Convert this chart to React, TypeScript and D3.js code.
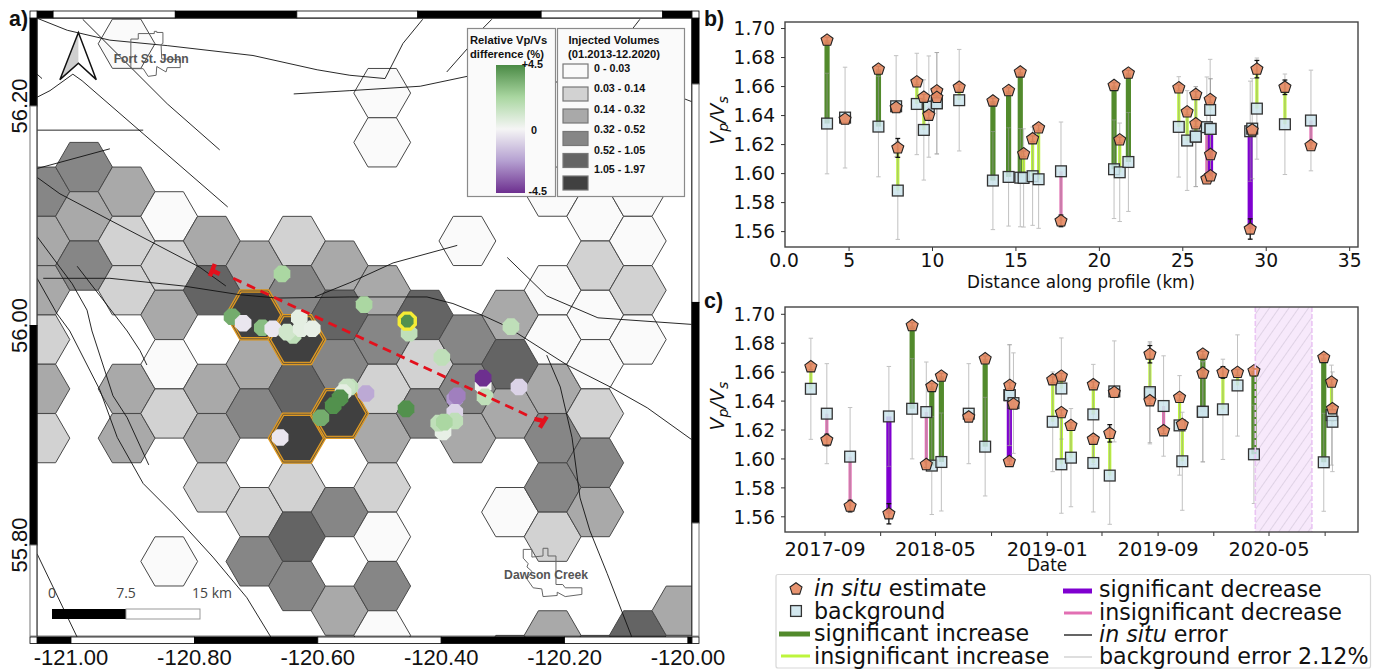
import React from "react";
import * as d3 from "d3";

// ---------- map data ----------
const volumeLabels = ["0 - 0.03", "0.03 - 0.14", "0.14 - 0.32", "0.32 - 0.52", "0.52 - 1.05", "1.05 - 1.97"];
const volumeColors = ["#fafafa", "#d2d2d2", "#a9a9a9", "#868686", "#646464", "#404040"];
const lonTicks = [-121, -120.8, -120.6, -120.4, -120.2, -120];
const latTicks = [55.8, 56, 56.2];
// [column, half-row, volume class]
const hexCells: number[][] = [
  [-1,1,3],[-1,3,2],[-1,5,2],[-1,7,1],[-1,9,2],[-1,11,1],
  [0,0,3],[0,2,2],[0,4,3],
  [1,-5,0],[1,1,2],[1,3,1],[1,5,1],[1,9,2],[1,11,2],
  [2,2,0],[2,4,1],[2,6,2],[2,8,0],[2,10,1],[2,16,0],
  [3,3,2],[3,5,4],[3,9,2],[3,11,2],[3,13,1],
  [4,4,2],[4,8,2],[4,10,3],[4,14,1],[4,16,3],
  [5,3,1],[5,5,3],[5,9,4],[5,13,1],[5,15,4],[5,17,3],
  [6,4,2],[6,6,4],[6,8,3],[6,14,3],[6,18,2],
  [7,-3,0],[7,-1,0],[7,5,2],[7,7,3],[7,9,1],[7,11,2],[7,13,1],[7,15,0],[7,17,3],[7,19,0],
  [8,6,4],[8,8,1],[8,10,3],
  [9,3,0],[9,7,3],[9,9,3],[9,11,2],
  [10,6,2],[10,8,4],[10,10,2],[10,14,0],[10,20,2],
  [11,1,0],[11,5,0],[11,7,0],[11,9,2],[11,11,3],[11,13,3],[11,15,1],[11,19,2],
  [12,2,0],[12,4,1],[12,6,0],[12,8,0],[12,10,1],[12,12,3],[12,14,2],[12,20,2],
  [13,1,0],[13,3,0],[13,5,1],[13,7,0],[13,19,4],
  [14,18,2],
];
const highlightedHexes: number[][] = [[4,6],[5,7],[5,11],[6,10]];
const faults: number[][][] = [
  [[-121.055,56.28],[-121.006,56.269],[-120.937,56.26],[-120.844,56.255],[-120.705,56.246],[-120.601,56.233],[-120.548,56.228],[-120.491,56.225]],
  [[-120.981,56.279],[-120.844,56.202],[-120.759,56.16]],
  [[-121.055,56.229],[-121.047,56.225]],
  [[-121.055,56.208],[-121.034,56.214],[-120.997,56.229],[-120.982,56.223],[-120.746,56.108]],
  [[-121.055,56.178],[-120.883,56.178]],
  [[-120.639,56.211],[-120.548,56.214],[-120.434,56.218],[-120.358,56.227]],
  [[-120.43,56.279],[-120.462,56.257],[-120.491,56.225]],
  [[-120.318,56.279],[-120.332,56.271],[-120.358,56.252],[-120.391,56.231]],
  [[-120.078,56.279],[-120.089,56.271]],
  [[-120.229,56.223],[-120.008,56.207],[-119.994,56.204]],
  [[-121.055,56.143],[-120.937,56.161]],
  [[-121.055,56.135],[-121.018,56.12],[-120.937,56.096],[-120.791,56.053],[-120.749,56.036]],
  [[-121.045,56.043],[-120.937,56.043],[-120.818,56.036],[-120.726,56.028],[-120.666,56.025],[-120.548,56.026],[-120.423,56.026],[-120.381,56.02],[-120.332,56.009],[-120.301,56.001],[-120.277,55.993],[-120.196,55.964],[-120.126,55.944],[-120.066,55.925],[-119.994,55.896]],
  [[-120.605,56.026],[-120.548,56.039],[-120.478,56.057],[-120.374,56.073]],
  [[-120.293,56.062],[-120.229,56.027],[-120.146,56.007],[-119.994,56.001]],
  [[-120.229,55.973],[-120.207,55.944],[-120.188,55.898],[-120.175,55.843],[-120.159,55.813],[-120.131,55.774],[-120.091,55.716]],
  [[-120.99,56.054],[-120.909,55.995],[-120.888,55.977],[-120.877,55.964]],
  [[-121.055,56.081],[-120.998,56.038],[-120.974,56.014],[-120.966,55.995],[-120.932,55.936],[-120.909,55.916],[-120.874,55.873]],
  [[-121.055,56.043],[-121.023,56.011],[-121.002,55.995],[-120.953,55.941],[-120.925,55.898],[-120.883,55.856],[-120.835,55.829],[-120.77,55.789],[-120.715,55.752],[-120.676,55.716]],
  [[-121.055,55.792],[-120.99,55.716]],
];
const fortStJohnOutline: number[][] = [[-120.903,56.261],[-120.891,56.261],[-120.891,56.266],[-120.865,56.266],[-120.865,56.268],[-120.861,56.268],[-120.861,56.267],[-120.851,56.267],[-120.851,56.257],[-120.854,56.256],[-120.853,56.243],[-120.823,56.242],[-120.823,56.235],[-120.844,56.235],[-120.846,56.231],[-120.861,56.236],[-120.862,56.228],[-120.875,56.227],[-120.883,56.234],[-120.903,56.234]];
const dawsonOutline: number[][] = [[-120.267,55.796],[-120.267,55.788],[-120.259,55.783],[-120.261,55.78],[-120.253,55.776],[-120.261,55.769],[-120.251,55.761],[-120.237,55.76],[-120.235,55.753],[-120.212,55.754],[-120.212,55.757],[-120.199,55.753],[-120.172,55.755],[-120.172,55.761],[-120.199,55.761],[-120.203,55.764],[-120.214,55.764],[-120.214,55.79],[-120.227,55.79],[-120.227,55.797],[-120.235,55.797],[-120.235,55.79],[-120.253,55.789],[-120.253,55.796]];
// stations: longitude, latitude, relative Vp/Vs difference (%)
const stationLon = [-120.658,-120.739,-120.721,-120.69,-120.673,-120.64,-120.65,-120.627,-120.63,-120.609,-120.525,-120.452,-120.455,-120.287,-120.399,-120.332,-120.332,-120.329,-120.274,-120.522,-120.457,-120.378,-120.374,-120.378,-120.378,-120.397,-120.404,-120.395,-120.548,-120.553,-120.559,-120.564,-120.575,-120.595,-120.661];
const stationLat = [56.047,56.008,56.002,55.998,55.997,55.991,55.994,55.997,56.007,55.997,56.019,55.993,56.004,55.999,55.971,55.945,55.952,55.935,55.944,55.938,55.924,55.933,55.936,55.921,55.913,55.903,55.911,55.912,55.944,55.944,55.939,55.934,55.927,55.916,55.898];
const stationDiff = [2.2,3.5,-0.4,3,-0.4,1.6,1.1,0.5,0.5,0.4,2.2,1.6,4.3,1.6,1.6,0.1,-4.5,1.6,-0.9,-2,4.3,-2.4,-2.9,-0.9,1.6,0.4,1.6,2.2,1.6,1.3,0.5,4.3,4.3,3.5,-0.4];
const highlightedStation = 12;
const profileEnds: number[][] = [[-120.737,56.043],[-120.256,55.917]];
const profileStartCap: number[][] = [[-120.767,56.056],[-120.775,56.045]];
const profileStartStub: number[][] = [[-120.771,56.05],[-120.759,56.047]];
const profileEndCap: number[][] = [[-120.229,55.917],[-120.24,55.907]];
const profileEndStub: number[][] = [[-120.235,55.913],[-120.249,55.915]];
const barBlocks = {
  top: [[-121.055,-121.029,1],[-121.029,-120.831,0],[-120.831,-120.634,1],[-120.634,-120.438,0],[-120.438,-120.238,1],[-120.238,-120.041,0],[-120.041,-119.994,1]],
  bottom: [[-121.055,-121,1],[-121,-120.8,0],[-120.8,-120.6,1],[-120.6,-120.4,0],[-120.4,-120.2,1],[-120.2,-120,0],[-120,-119.994,1]],
  left: [[56.28,56.2,1],[56.2,56,0],[56,55.8,1],[55.8,55.717,0]],
  right: [[56.28,56.22,1],[56.22,56.021,0],[56.021,55.82,1],[55.82,55.717,0]],
};

// ---------- panel b ----------
const bDist = [3.68,4.76,6.76,7.82,7.92,9.06,9.48,9.78,10.26,10.26,11.6,13.62,14.56,15.26,15.46,16.0,16.36,17.7,20.88,21.22,21.74,24.76,25.26,25.78,25.78,26.44,26.64,26.66,26.66,29.04,29.16,29.44,31.12,32.68];
const bInSitu = [1.692,1.6375,1.672,1.6455,1.6177,1.6632,1.6526,1.6402,1.657,1.6525,1.6595,1.65,1.6572,1.67,1.6136,1.624,1.6315,1.5674,1.6607,1.6232,1.6692,1.6591,1.6425,1.6545,1.6343,1.5963,1.651,1.6131,1.5984,1.5618,1.63,1.672,1.6595,1.6193];
const bBackground = [1.6345,1.6386,1.6324,1.6464,1.5883,1.648,1.6301,1.6462,1.6485,1.6485,1.6506,1.5952,1.5977,1.5972,1.597,1.5982,1.5961,1.6016,1.603,1.6009,1.608,1.6322,1.6228,1.6255,1.6255,1.632,1.6439,1.6308,1.6308,1.6292,1.631,1.6448,1.634,1.6366];
const bKind = ["si","n","si","n","ii","ii","ii","id","ii","ii","ii","si","si","si","ii","ii","ii","id","si","ii","si","ii","ii","ii","ii","id","ii","sd","sd","sd","n","ii","ii","id"];
const bError = [0.002,0.002,0.002,0.002,0.0065,0.002,0.002,0.002,0.002,0.002,0.002,0.002,0.002,0.002,0.002,0.002,0.002,0.004,0.002,0.002,0.002,0.002,0.002,0.002,0.002,0.002,0.002,0.002,0.002,0.007,0.002,0.006,0.005,0.002];
const bBackgroundError = 0.0212;
const bXTicks = [5,10,15,20,25,30,35];

// ---------- panel c ----------
const cDate = ["2017-08-01","2017-09-05","2017-10-26","2018-01-19","2018-03-11","2018-04-11","2018-04-23","2018-05-14","2018-07-13","2018-08-18","2018-10-10","2018-10-11","2018-10-19","2019-01-13","2019-02-01","2019-02-01","2019-02-22","2019-04-12","2019-04-12","2019-05-18","2019-05-28","2019-08-14","2019-08-14","2019-09-13","2019-10-18","2019-10-24","2019-12-08","2019-12-08","2020-01-21","2020-02-22","2020-03-29","2020-08-29","2020-09-15","2020-09-17"];
const cInSitu = [1.6637,1.6131,1.5674,1.5621,1.6922,1.5961,1.6501,1.6572,1.629,1.6692,1.5982,1.6508,1.6379,1.6547,1.6572,1.632,1.6232,1.6513,1.6136,1.6177,1.646,1.6724,1.6402,1.6195,1.6425,1.6239,1.6724,1.6593,1.6598,1.6598,1.6609,1.6701,1.6531,1.6347];
const cBackground = [1.6485,1.6313,1.6016,1.6294,1.6347,1.6324,1.5954,1.5979,1.6313,1.6085,1.6441,1.6441,1.6386,1.6257,1.6487,1.5963,1.6009,1.6308,1.5972,1.5885,1.6467,1.6453,1.6462,1.6366,1.6232,1.5984,1.6326,1.6326,1.6343,1.6508,1.6032,1.5977,1.6303,1.6257];
const cKind = ["ii","id","id","sd","si","id","si","si","n","si","sd","ii","n","ii","ii","ii","ii","ii","ii","ii","n","ii","id","id","ii","ii","si","si","ii","ii","si","si","ii","ii"];
const cError = [0.002,0.004,0.004,0.007,0.002,0.002,0.002,0.002,0.002,0.002,0.002,0.002,0.002,0.002,0.002,0.002,0.002,0.002,0.002,0.006,0.002,0.006,0.002,0.002,0.002,0.002,0.002,0.002,0.004,0.002,0.002,0.002,0.002,0.002];
const cTickDates = ["2017-09-01","2018-01-01","2018-05-01","2018-09-01","2019-01-01","2019-05-01","2019-09-01","2020-01-01","2020-05-01","2020-09-01"];
const cTickLabels = ["2017-09","","2018-05","","2019-01","","2019-09","","2020-05",""];
const shutdownWindow = ["2020-04-01","2020-08-03"];
const yTicks = [1.56,1.58,1.6,1.62,1.64,1.66,1.68,1.7];

const kindStyle: Record<string, { color: string; width: number }> = {
  si: { color: "#528a2c", width: 5.2 },
  ii: { color: "#bdf53c", width: 3.2 },
  sd: { color: "#7f00d0", width: 5.2 },
  id: { color: "#e26fb3", width: 3.2 },
};

const SANS = "'DejaVu Sans', sans-serif";
const ARIAL = "'Liberation Sans', Arial, sans-serif";

const lon = d3.scaleLinear().domain([-121, -120]).range([71, 688]);
const lat = d3.scaleLinear().domain([55.8, 56.2]).range([545, 106]);
const hexX = d3.scaleLinear().domain([0, 14]).range([84, 680.4]);
const hexY = d3.scaleLinear().domain([0, 20]).range([167, 660]);
const diffColor = d3.scaleLinear<string>().domain([-4.5, -2.25, 0, 2.25, 4.5]).range(["#6d2f8f", "#b5a0d1", "#f5f5f5", "#a9d6a0", "#4a8a45"]);
const mapLine = d3.line<number[]>().x((d) => lon(d[0])).y((d) => lat(d[1]));

function polygon(cx: number, cy: number, r: number, n: number, start: number) {
  const pts = d3.range(n).map((i) => {
    const a = start + (i * 2 * Math.PI) / n;
    return [cx + r * Math.cos(a), cy + r * Math.sin(a)] as [number, number];
  });
  return d3.line()(pts) + "Z";
}
const hexPath = (k: number, r: number) => polygon(hexX(k), hexY(r), 28.4, 6, 0);

function MapPanel() {
  const x0 = lon(-121.055), x1 = lon(-119.994), y0 = lat(56.28), y1 = lat(55.717);
  return (
    <g>
      <clipPath id="mapClip"><rect x={37} y={18} width={655} height={619} /></clipPath>
      <g clipPath="url(#mapClip)">
        {hexCells.map(([k, r, c], i) => (
          <path key={i} d={hexPath(k, r)} fill={volumeColors[c]} stroke="#484848" strokeWidth={1} />
        ))}
        {highlightedHexes.map(([k, r], i) => (
          <g key={i}>
            <path d={polygon(hexX(k), hexY(r), 27.6, 6, 0)} fill={volumeColors[5]} stroke="#e09a22" strokeWidth={3.4} />
            <path d={polygon(hexX(k), hexY(r), 27.6, 6, 0)} fill="none" stroke="#5a5040" strokeWidth={0.9} />
          </g>
        ))}
        {faults.map((f, i) => (
          <path key={i} d={mapLine(f) as string} fill="none" stroke="#111" strokeWidth={0.9} />
        ))}
        <path d={(mapLine(fortStJohnOutline) as string) + "Z"} fill="none" stroke="#666" strokeWidth={1} />
        <path d={(mapLine(dawsonOutline) as string) + "Z"} fill="none" stroke="#666" strokeWidth={1} />
        <text x={lon(-120.87)} y={lat(56.239)} textAnchor="middle" fontFamily={ARIAL} fontWeight="bold" fontSize={12.2} fill="#555">Fort St. John</text>
        <text x={lon(-120.23)} y={lat(55.769)} textAnchor="middle" fontFamily={ARIAL} fontWeight="bold" fontSize={12.2} fill="#555">Dawson Creek</text>
        {stationLon.map((l, i) => (
          <g key={i}>
            {i === highlightedStation && <path d={polygon(lon(l), lat(stationLat[i]), 10.5, 8, Math.PI / 8)} fill="#f5ec35" />}
            <path d={polygon(lon(l), lat(stationLat[i]), i === highlightedStation ? 6.8 : 9, 8, Math.PI / 8)} fill={diffColor(stationDiff[i])} />
          </g>
        ))}
        <path d={mapLine(profileEnds) as string} stroke="#e3101c" strokeWidth={2.8} strokeDasharray="9 6" fill="none" />
        {[profileStartCap, profileStartStub, profileEndCap, profileEndStub].map((s, i) => (
          <path key={i} d={mapLine(s) as string} stroke="#e3101c" strokeWidth={4.4} fill="none" />
        ))}
        {/* north arrow */}
        <path d={`M${lon(-120.988)} ${lat(56.267)} L${lon(-120.988)} ${lat(56.239)} L${lon(-121.018)} ${lat(56.224)} Z`} fill="#cfcfcf" />
        <path d={`M${lon(-121.018)} ${lat(56.224)} L${lon(-120.988)} ${lat(56.267)} L${lon(-120.959)} ${lat(56.224)} L${lon(-120.988)} ${lat(56.239)} Z`} fill="none" stroke="#111" strokeWidth={1.5} />
        {/* scale bar */}
        <rect x={52} y={609} width={74} height={10} fill="#000" />
        <rect x={126} y={609} width={74} height={10} fill="#fff" stroke="#999" />
        {[["0", 52], ["7.5", 126], ["15 km", 212]].map(([t, x]) => (
          <text key={t as string} x={x as number} y={598} textAnchor="middle" fontFamily="'Open Sans', sans-serif" fontSize={14} fill="#444">{t}</text>
        ))}
      </g>
      {/* frame */}
      {barBlocks.top.map(([a, b, v], i) => (
        <rect key={i} x={lon(a)} y={11} width={lon(b) - lon(a)} height={7} fill={v ? "#000" : "#fff"} stroke="#000" strokeWidth={0.8} />
      ))}
      {barBlocks.bottom.map(([a, b, v], i) => (
        <rect key={i} x={lon(a)} y={637} width={lon(b) - lon(a)} height={6.5} fill={v ? "#000" : "#fff"} stroke="#000" strokeWidth={0.8} />
      ))}
      {barBlocks.left.map(([a, b, v], i) => (
        <rect key={i} x={30} y={lat(a)} width={7} height={lat(b) - lat(a)} fill={v ? "#000" : "#fff"} stroke={v ? "#000" : "#777"} strokeWidth={1} />
      ))}
      {barBlocks.right.map(([a, b, v], i) => (
        <rect key={i} x={692} y={lat(a)} width={7} height={lat(b) - lat(a)} fill={v ? "#000" : "#fff"} stroke={v ? "#000" : "#777"} strokeWidth={1} />
      ))}
      <rect x={30} y={11} width={7} height={7} fill="#fff" stroke="#000" strokeWidth={0.8} />
      <rect x={30} y={637} width={7} height={6.5} fill="#fff" stroke="#000" strokeWidth={0.8} />
      <rect x={692} y={11} width={7} height={7} fill="#fff" stroke="#000" strokeWidth={0.8} />
      <rect x={692} y={637} width={7} height={6.5} fill="#fff" stroke="#000" strokeWidth={0.8} />
      <rect x={x0} y={y0} width={x1 - x0} height={y1 - y0} fill="none" stroke="#222" strokeWidth={0.8} />
      {lonTicks.map((t) => (
        <text key={t} x={lon(t)} y={665} textAnchor="middle" fontFamily={ARIAL} fontSize={22} fill="#111">{t.toFixed(2)}</text>
      ))}
      {latTicks.map((t) => (
        <text key={t} transform={`translate(27,${lat(t)}) rotate(-90)`} textAnchor="middle" fontFamily={ARIAL} fontSize={22} fill="#111">{t.toFixed(2)}</text>
      ))}
      {/* map legends */}
      <defs>
        <linearGradient id="diffGrad" x1="0" y1="0" x2="0" y2="1">
          {d3.range(0, 1.001, 0.125).map((o) => (
            <stop key={o} offset={o} stopColor={diffColor(4.5 - o * 9)} />
          ))}
        </linearGradient>
      </defs>
      <rect x={467.5} y={28.5} width={88} height={168} fill="#fafafa" stroke="#8a8a8a" strokeWidth={1.2} />
      <rect x={557.5} y={28.5} width={127} height={168} fill="#fafafa" stroke="#8a8a8a" strokeWidth={1.2} />
      <g fontFamily={ARIAL} fontWeight="bold" fontSize={11.2} fill="#111">
        <text x={470} y={44}>Relative Vp/Vs</text>
        <text x={470} y={58}>difference (%)</text>
        <rect x={496} y={65} width={29} height={128} fill="url(#diffGrad)" />
        <g fontSize={10.8}>
          <text x={543} y={68} textAnchor="end">+4.5</text>
          <text x={534} y={134} textAnchor="middle">0</text>
          <text x={547} y={195} textAnchor="end">-4.5</text>
        </g>
        <text x={614} y={44} textAnchor="middle">Injected Volumes</text>
        <text x={614} y={58} textAnchor="middle">(01.2013-12.2020)</text>
        {volumeLabels.map((l, i) => {
          const sy = [64, 87, 109, 131.5, 153.5, 176][i];
          const ty = [72, 92, 113, 133, 154, 173][i];
          return (
            <g key={l}>
              <rect x={563} y={sy} width={25} height={14} fill={volumeColors[i]} stroke="#777" strokeWidth={1.2} />
              <text x={594} y={ty} fontSize={10.7}>{l}</text>
            </g>
          );
        })}
      </g>
    </g>
  );
}

function Pentagon({ x, y }: { x: number; y: number }) {
  return <path d={polygon(x, y, 6.3, 5, -Math.PI / 2)} fill="#e58a63" fillOpacity={0.92} stroke="#222" strokeWidth={1.1} />;
}
function Square({ x, y }: { x: number; y: number }) {
  return <rect x={x - 5.4} y={y - 5.4} width={10.8} height={10.8} fill="#cbe4ec" fillOpacity={0.85} stroke="#333" strokeWidth={1.3} />;
}

function ErrorBar({ x, a, b, color, width, cap, opacity }: any) {
  return (
    <g stroke={color} strokeWidth={width} opacity={opacity}>
      <line x1={x} x2={x} y1={a} y2={b} />
      <line x1={x - cap} x2={x + cap} y1={a} y2={a} />
      <line x1={x - cap} x2={x + cap} y1={b} y2={b} />
    </g>
  );
}

function Panel({ xs, insitu, bg, kind, err, y, xMin, xMax, top, bottom, children, overlay }: any) {
  return (
    <g>
      {children}
      {xs.map((x: number, i: number) => {
        const s = kindStyle[kind[i]];
        return s ? <line key={i} x1={x} x2={x} y1={y(insitu[i])} y2={y(bg[i])} stroke={s.color} strokeWidth={s.width} /> : null;
      })}
      {xs.map((x: number, i: number) => (
        <ErrorBar key={i} x={x} a={y(bg[i] * (1 + bBackgroundError))} b={y(bg[i] * (1 - bBackgroundError))} color="#9a9a9a" width={1} cap={2.2} opacity={0.6} />
      ))}
      {xs.map((x: number, i: number) => (
        <ErrorBar key={i} x={x} a={y(insitu[i] + err[i])} b={y(insitu[i] - err[i])} color="#111" width={1.3} cap={2.4} opacity={1} />
      ))}
      {xs.map((x: number, i: number) => <Square key={i} x={x} y={y(bg[i])} />)}
      {xs.map((x: number, i: number) => <Pentagon key={i} x={x} y={y(insitu[i])} />)}
      {overlay}
      <rect x={xMin} y={top} width={xMax - xMin} height={bottom - top} fill="none" stroke="#444" strokeWidth={1.4} />
      {yTicks.map((t) => (
        <g key={t}>
          <line x1={xMin - 4} x2={xMin} y1={y(t)} y2={y(t)} stroke="#333" />
          <text x={775} y={y(t) + 6.8} textAnchor="end" fontFamily={SANS} fontSize={18.6} fill="#111">{t.toFixed(2)}</text>
        </g>
      ))}
      <text transform={`translate(724,${y(1.64) + 5}) rotate(-90)`} textAnchor="middle" fontFamily={SANS} fontSize={19} fontStyle="italic" fill="#111">
        <tspan>V</tspan><tspan dy={4} fontSize={14}>p</tspan><tspan dy={-4}>/V</tspan><tspan dy={4} fontSize={14}>s</tspan>
      </text>
    </g>
  );
}

function PanelB() {
  const x = d3.scaleLinear().domain([1.16, 35.5]).range([785, 1358]);
  const y = d3.scaleLinear().domain([1.5494, 1.7045]).range([247, 22]);
  return (
    <Panel xs={bDist.map((d) => x(d))} insitu={bInSitu} bg={bBackground} kind={bKind} err={bError} y={y} xMin={785} xMax={1358} top={22} bottom={247}>
      {bXTicks.map((t) => (
        <g key={t}>
          <line x1={x(t)} x2={x(t)} y1={247} y2={251} stroke="#333" />
          <text x={x(t)} y={267} textAnchor="middle" fontFamily={SANS} fontSize={18.7} fill="#111">{t}</text>
        </g>
      ))}
      <text x={784} y={267} textAnchor="middle" fontFamily={SANS} fontSize={18.7} fill="#111">0.0</text>
      <text x={1081} y={288} textAnchor="middle" fontFamily={SANS} fontSize={16.8} fill="#111">Distance along profile (km)</text>
    </Panel>
  );
}

function PanelC() {
  const parse = d3.utcParse("%Y-%m-%d");
  const x = d3.scaleUtc().domain([parse("2017-09-01")!, parse("2020-05-01")!]).range([825, 1269]);
  const y = d3.scaleLinear().domain([1.5495, 1.7]).range([532, 314.3]);
  const sx0 = x(parse(shutdownWindow[0])!), sx1 = x(parse(shutdownWindow[1])!);
  const edges = [sx0, sx1].map((v) => (
    <line key={v} x1={v} x2={v} y1={307} y2={532} stroke="#eac4f3" strokeWidth={1.6} strokeDasharray="5 2" />
  ));
  return (
    <Panel xs={cDate.map((d) => x(parse(d)!))} insitu={cInSitu} bg={cBackground} kind={cKind} err={cError} y={y} xMin={785} xMax={1358} top={307} bottom={532} overlay={edges}>
      <defs>
        <pattern id="hatch" width={8} height={8} patternUnits="userSpaceOnUse" patternTransform="rotate(35)">
          <rect width={8} height={8} fill="#f7e9fb" />
          <line x1={0} x2={0} y1={0} y2={8} stroke="#d9cde0" strokeWidth={1.6} />
        </pattern>
      </defs>
      <rect x={sx0} y={307} width={sx1 - sx0} height={225} fill="url(#hatch)" />
      {cTickDates.map((d, i) => (
        <g key={d}>
          <line x1={x(parse(d)!)} x2={x(parse(d)!)} y1={532} y2={536} stroke="#333" />
          {cTickLabels[i] && <text x={x(parse(d)!)} y={556} textAnchor="middle" fontFamily={SANS} fontSize={19.4} fill="#111">{cTickLabels[i]}</text>}
        </g>
      ))}
      <text x={1047} y={570.5} textAnchor="middle" fontFamily={SANS} fontSize={16.8} fill="#111">Date</text>
    </Panel>
  );
}

function Legend() {
  const fs = 22.2;
  const T = ({ x, y, it, rest }: any) => (
    <text x={x} y={y} fontFamily={SANS} fontSize={fs} fill="#111">
      {it && <tspan fontStyle="italic">{it}</tspan>}
      <tspan>{rest}</tspan>
    </text>
  );
  return (
    <g>
      <rect x={776} y={574.5} width={594.5} height={93.5} rx={2} fill="#fff" stroke="#d8d8d8" strokeWidth={1.2} />
      <Pentagon x={796} y={589} />
      <Square x={796} y={611} />
      <line x1={779} x2={810} y1={634} y2={634} stroke={kindStyle.si.color} strokeWidth={5} />
      <line x1={781} x2={810} y1={656} y2={656} stroke={kindStyle.ii.color} strokeWidth={3} />
      <T x={814} y={596} it="in situ" rest=" estimate" />
      <T x={814} y={619} rest="background" />
      <T x={814} y={641} rest="significant increase" />
      <T x={814} y={664} rest="insignificant increase" />
      <line x1={1063} x2={1092} y1={591} y2={591} stroke={kindStyle.sd.color} strokeWidth={5} />
      <line x1={1064} x2={1092} y1={613} y2={613} stroke={kindStyle.id.color} strokeWidth={3} />
      <line x1={1064} x2={1092} y1={635} y2={635} stroke="#111" strokeWidth={1.3} />
      <line x1={1064} x2={1092} y1={657} y2={657} stroke="#ccc" strokeWidth={1.3} />
      <T x={1099} y={597} rest="significant decrease" />
      <T x={1099} y={620} rest="insignificant decrease" />
      <T x={1099} y={642} it="in situ" rest=" error" />
      <T x={1099} y={664} rest="background error 2.12%" />
    </g>
  );
}

export default function App() {
  return (
    <svg width={1384} height={672} style={{ position: "absolute", left: 0, top: 0, background: "#fff" }}>
      <MapPanel />
      <PanelB />
      <PanelC />
      <Legend />
      <g fontFamily={ARIAL} fontWeight="bold" fontSize={21.4} fill="#111">
        <text x={9} y={26}>a)</text>
        <text x={704} y={26}>b)</text>
        <text x={704} y={308}>c)</text>
      </g>
    </svg>
  );
}
